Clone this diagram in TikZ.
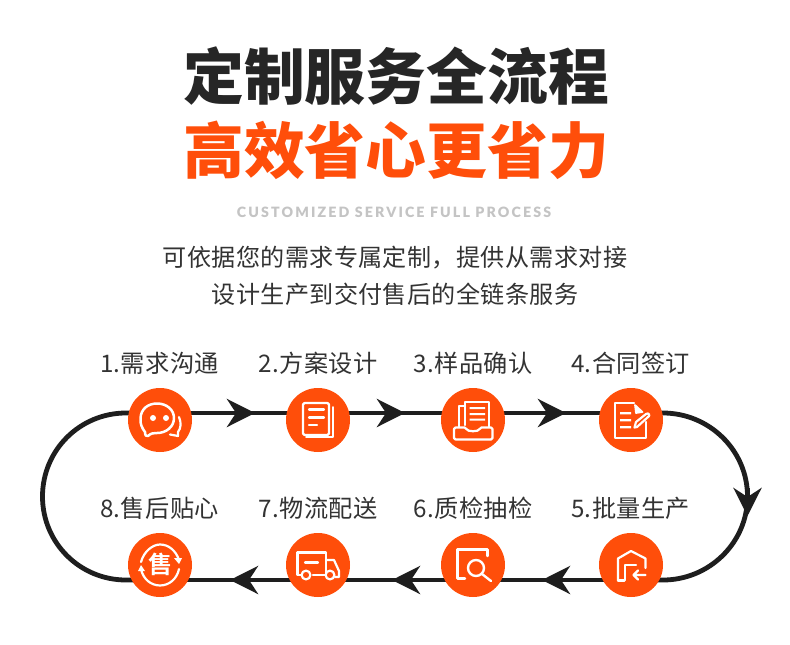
\documentclass[tikz,border=0pt]{standalone}
\usepackage{fontspec}
\usetikzlibrary{arrows.meta,decorations.markings,backgrounds,calc}
\setmainfont{Noto Sans CJK SC}
\newfontfamily\cjkblack{Noto Sans CJK SC Black}
\newfontfamily\cjksub[LetterSpace=1.5]{Noto Sans CJK SC}
\newfontfamily\latinbold[LetterSpace=15]{Lato Black}
\definecolor{brand}{HTML}{FF4E0A}
\definecolor{ink}{HTML}{262626}
\definecolor{flowink}{HTML}{1E1E1E}
\definecolor{labelink}{HTML}{333333}
\definecolor{subink}{HTML}{C4C4C4}
\tikzset{
  stepcircle/.style={circle,fill=brand,minimum size=64pt,inner sep=0pt},
  steplabel/.style={inner sep=0pt,font=\cjksub\fontsize{24.2}{24.2}\selectfont,text=labelink},
  headline/.style={inner sep=0pt,font=\cjkblack\fontsize{60.8}{60.8}\selectfont},
  subline/.style={inner sep=0pt,font=\cjksub\fontsize{24.1}{24.1}\selectfont,text=labelink},
  flow/.style={draw=flowink,line width=4.8pt},
  flowtip/.tip={Stealth[length=28pt,width=28pt,inset=9pt]},
  arrowat/.style={postaction={decorate,decoration={markings,mark=at position #1 with {\arrow[color=flowink]{flowtip}}}}},
  icon/.style={draw=white,line width=2.2pt,line cap=round,line join=round},
}
\begin{document}
\begin{tikzpicture}[x=1pt,y=-1pt]
\path[use as bounding box] (0,0) rectangle (790,645);
\node[headline,text=ink] (title) at (396,76.5) {定制服务全流程};
\node[headline,text=brand] (title2) at (396,150) {高效省心更省力};
\node[inner sep=0pt,font=\latinbold\fontsize{14.2}{14.2}\selectfont,text=subink] (en) at (394,212.5) {CUSTOMIZED SERVICE FULL PROCESS};
\node[subline] (sub1) at (395,258) {可依据您的需求专属定制，提供从需求对接};
\node[subline] (sub2) at (395,294) {设计生产到交付售后的全链条服务};

\node[stepcircle] (n1) at (160,420) {};
\node[stepcircle] (n2) at (318,420) {};
\node[stepcircle] (n3) at (473,420) {};
\node[stepcircle] (n4) at (631,420) {};
\node[stepcircle] (n5) at (631,565) {};
\node[stepcircle] (n6) at (473,565) {};
\node[stepcircle] (n7) at (318,565) {};
\node[stepcircle] (n8) at (160,565) {};

\node[steplabel] (l1) at (159.5,363) {1.需求沟通};
\node[steplabel] (l2) at (318,363) {2.方案设计};
\node[steplabel] (l3) at (473,363) {3.样品确认};
\node[steplabel] (l4) at (630.5,363) {4.合同签订};
\node[steplabel] (l5) at (630.5,508) {5.批量生产};
\node[steplabel] (l6) at (473,508) {6.质检抽检};
\node[steplabel] (l7) at (318,508) {7.物流配送};
\node[steplabel] (l8) at (159.5,508) {8.售后贴心};

\coordinate (rtail) at (747.5,488);
\coordinate (rtip) at (747.5,516);
\begin{scope}[on background layer]
\fill[white] (0,0) rectangle (790,645);
\draw[flow,arrowat=95pt] ([yshift=7pt]n1.center) -- ([yshift=7pt]n2.center);
\draw[flow,arrowat=87pt] ([yshift=7pt]n2.center) -- ([yshift=7pt]n3.center);
\draw[flow,arrowat=93pt] ([yshift=7pt]n3.center) -- ([yshift=7pt]n4.center);
\draw[flow] ([yshift=7pt]n4.center) -- ++(32,0) .. controls +(46,0) and (747.5,450) .. (747.5,496.5) .. controls (747.5,543) and (709,580) .. ([yshift=-15pt,xshift=32pt]n5.center) -- ([yshift=-15pt]n5.center);
\draw[flow,-{flowtip}] (rtail) -- (rtip);
\draw[flow,arrowat=89pt] ([yshift=-15pt]n5.center) -- ([yshift=-15pt]n6.center);
\draw[flow,arrowat=81pt] ([yshift=-15pt]n6.center) -- ([yshift=-15pt]n7.center);
\draw[flow,arrowat=88pt] ([yshift=-15pt]n7.center) -- ([yshift=-15pt]n8.center);
\draw[flow] ([yshift=-15pt]n8.center) -- ++(-34,0) .. controls +(-46,0) and (42.5,543) .. (42.5,496.5) .. controls (42.5,450) and (80,413) .. ([yshift=7pt,xshift=-34pt]n1.center) -- ([yshift=7pt]n1.center);
\end{scope}

% icon 1: chat bubbles
\begin{scope}[shift={(n1.center)}]
\draw[icon,line width=2.5pt] (-15,12) .. controls (-18,8) and (-20,4) .. (-19.5,-2) .. controls (-19,-11) and (-12,-16.5) .. (-3,-16.5) .. controls (7,-16.5) and (14,-10) .. (14,-2) .. controls (14,7) and (6,13) .. (-3,13) .. controls (-6,13) and (-9,13) .. (-12,16) .. controls (-14,17) and (-15,15) .. cycle;
\fill[white] (-7,-2) circle (3) (6,-2) circle (3);
\draw[icon] (19,-3) .. controls (21.5,3) and (21,8) .. (18,12) -- (18,16) -- (10,14.5);
\end{scope}
% icon 2: document
\begin{scope}[shift={(n2.center)}]
\draw[icon,rounded corners=1.5pt] (-15,-17) rectangle (11,15);
\draw[icon,line width=1.6pt] (15,-13) -- (15,17) -- (-12,17);
\draw[icon] (-9,-10.5) -- (6,-10.5) (-9,-2.5) -- (6,-2.5) (-9,5) -- (-1,5);
\end{scope}
% icon 3: tray of papers
\begin{scope}[shift={(n3.center)}]
\draw[icon] (-8,5) -- (-8,-18) -- (16,-18) -- (16,7);
\draw[icon] (-8,-14) -- (-14,-14) -- (-14,7);
\fill[white] (-3.5,-13) rectangle (12,-11) (-3.5,-7) rectangle (12,-5) (-3.5,-1.5) rectangle (12,0.5);
\draw[icon,rounded corners=1.5pt] (-19,7.5) -- (-7,7.5) .. controls (-6,12) and (6,12) .. (7,7.5) -- (19.5,7.5) -- (19.5,19.5) -- (-19,19.5) -- cycle;
\end{scope}
% icon 4: document with pen
\begin{scope}[shift={(n4.center)}]
\draw[icon] (3,-17) -- (-16,-17) -- (-16,18) -- (15,18) -- (15,2);
\draw[icon,fill=white,line width=1.7pt] (4,-15) -- (11.5,-8) -- (5,-7) -- cycle;
\fill[white] (-11,-8) rectangle (0,-5.6) (-11,-1) rectangle (0,1.4) (-11,6) rectangle (0,8.4);
\draw[icon] (6,7) -- (3.5,7.5) -- (5,2) -- (15,-6) .. controls (18,-8) and (19.5,-4) .. (17,-3) -- cycle;
\end{scope}
% icon 5: house with arrow
\begin{scope}[shift={(n5.center)}]
\draw[icon] (-13,15.5) -- (-13,-6.5) -- (0,-14) -- (14.5,-6.5) -- (14.5,3);
\draw[icon] (-6.5,15.5) -- (-13,15.5);
\draw[icon] (-6,15) -- (-6,0) -- (5,0);
\draw[icon] (14.5,10) -- (3,10) (7,5.5) -- (2.5,10) -- (7,14.5);
\end{scope}
% icon 6: magnifier
\begin{scope}[shift={(n6.center)}]
\draw[icon,line width=2.4pt] (14.5,-9) -- (14.5,-15.5) -- (-15.5,-15.5) -- (-15.5,13.5) -- (-8,13.5);
\draw[icon,line width=2.4pt] (3,3) circle (8);
\draw[icon,line width=2.4pt] (9,9) -- (18,16);
\end{scope}
% icon 7: truck
\begin{scope}[shift={(n7.center)}]
\draw[icon] (-16,10) -- (-20.5,10) -- (-20.5,-12.5) -- (8,-12.5) -- (8,10) -- (-5,10);
\draw[icon] (-13,-2.5) -- (0,-2.5);
\draw[icon] (8,-5) -- (16,-5) -- (21,6) -- (21,12) -- (17,12);
\draw[icon] (-12,10) circle (4.4) (12,10) circle (4.4);
\end{scope}
% icon 8: after-sale
\begin{scope}[shift={(n8.center)}]
\draw[icon] (-19,-3) .. controls (-16,-14) and (-7,-20.5) .. (0,-20.5) .. controls (9,-20.5) and (16,-14) .. (19,-5);
\draw[icon] (19,4) .. controls (17,14) and (9,20.5) .. (0,20.5) .. controls (-9,20.5) and (-17,14) .. (-19,4);
\fill[white] (14,-7) -- (22,-7) -- (19,-1) -- cycle (-15,6) -- (-22,6) -- (-19,0) -- cycle;
\node[inner sep=0pt,text=white,font=\fontspec{Noto Sans CJK SC Bold}\fontsize{24}{24}\selectfont] (shou) at (0,-0.5) {售};
\end{scope}
\end{tikzpicture}
\end{document}
